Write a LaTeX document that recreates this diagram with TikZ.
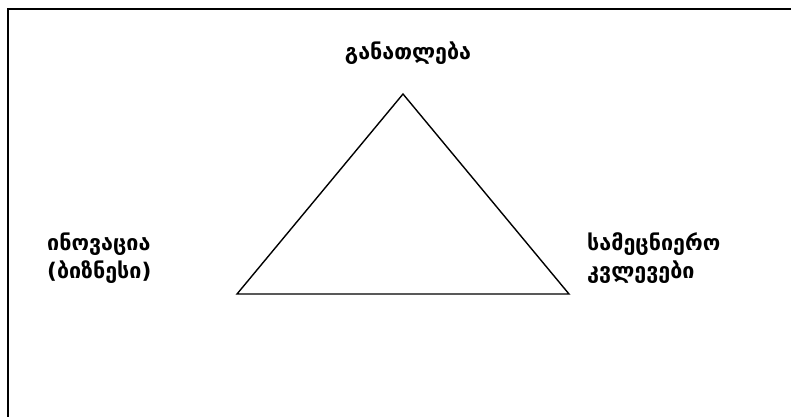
\documentclass[tikz,border=0pt]{standalone}
\usepackage{fontspec}
\newfontfamily\geo{DejaVu Sans}
\tikzset{
  lbl/.style={font=\geo\bfseries\fontsize{21.5}{28}\selectfont, inner sep=0pt},
  frame/.style={line width=2pt},
  tri/.style={line width=1.4pt, line join=miter}
}
\begin{document}
\begin{tikzpicture}[x=1pt,y=-1pt]
\useasboundingbox (0,0) rectangle (791,416);
\clip (0,0) rectangle (791,416);
\draw[frame] (8,9) rectangle (805,430);
\coordinate (A) at (403,94);
\coordinate (B) at (237,294);
\coordinate (C) at (569,294);
\draw[tri] (A) -- (B) -- (C) -- cycle;
\node[lbl] (top) at (408,53) {განათლება};
\node[lbl, align=left, anchor=west] (left) at (47,258) {ინოვაცია\\(ბიზნესი)};
\node[lbl, align=left, anchor=west] (right) at (587,258) {სამეცნიერო\\კვლევები};
\end{tikzpicture}
\end{document}
